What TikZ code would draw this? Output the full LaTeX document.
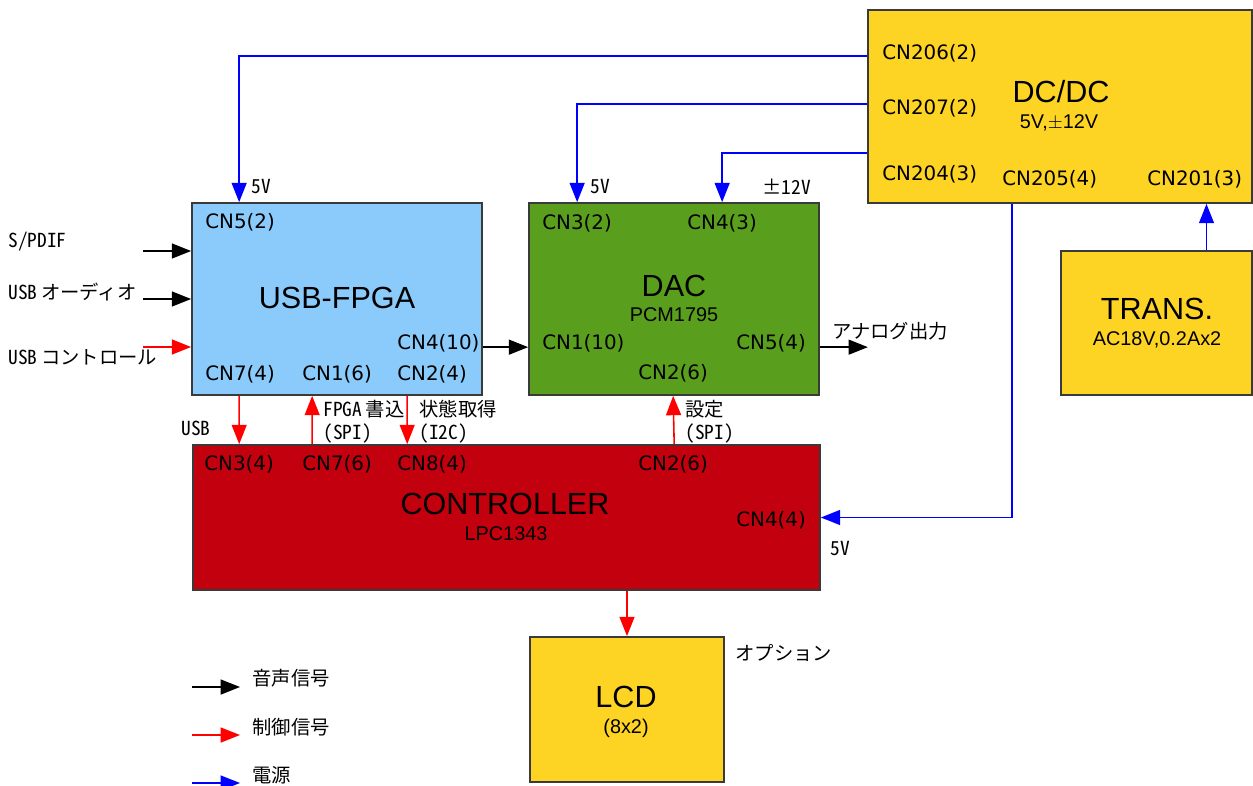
\documentclass[tikz,border=0pt]{standalone}
\usepackage{fontspec}
\usetikzlibrary{arrows.meta, positioning, calc}
\newfontfamily\portfont{DejaVu Sans}
\newfontfamily\headfont{Liberation Sans}
\newfontfamily\jpfont[RawFeature=+hwid]{Noto Sans CJK JP}
\definecolor{fpgacolor}{HTML}{8BCBFB}
\definecolor{daccolor}{HTML}{5A9E1E}
\definecolor{ctrlcolor}{HTML}{C3000E}
\definecolor{powercolor}{HTML}{FDD324}
\definecolor{edgecolor}{HTML}{3A3A3A}

\begin{document}
\begin{tikzpicture}[x=0.02cm, y=-0.02cm,
    block/.style={rectangle, draw=edgecolor, line width=1pt, fill=#1, inner sep=0pt},
    port/.style={anchor=west, inner sep=0pt, font=\portfont\fontsize{11.3}{13}\selectfont},
    title/.style={inner sep=0pt, font=\headfont\fontsize{17.4}{20}\selectfont},
    subtitle/.style={inner sep=0pt, font=\headfont\fontsize{11.3}{13}\selectfont},
    note/.style={anchor=west, inner sep=0pt, font=\jpfont\fontsize{11}{13}\selectfont},
    sig/.style={-{Triangle[length=11pt, width=8.5pt]}, line width=0.9pt, black},
    ctl/.style={sig, red},
    pwr/.style={sig, blue}
]
\useasboundingbox (0,0) rectangle (1253,785);

% Blocks
\node[block=fpgacolor, minimum width=5.8cm, minimum height=3.84cm] (fpga) at (337,299) {};
\node[block=daccolor, minimum width=5.8cm, minimum height=3.84cm] (dac) at (674,299) {};
\node[block=ctrlcolor, minimum width=12.54cm, minimum height=2.9cm] (ctrl) at (506.5,517.5) {};
\node[block=powercolor, minimum width=3.88cm, minimum height=2.9cm] (lcd) at (627,709.5) {};
\node[block=powercolor, minimum width=7.68cm, minimum height=3.86cm] (dcdc) at (1060,106.5) {};
\node[block=powercolor, minimum width=3.82cm, minimum height=2.88cm] (trans) at (1156.5,323) {};

% Block titles
\node[title] (fpga-t) at (337,298) {USB-FPGA};
\node[title] (dac-t) at (674,286) {DAC};
\node[subtitle] (dac-s) at (674,315) {PCM1795};
\node[title] (ctrl-t) at (505,504) {CONTROLLER};
\node[subtitle] (ctrl-s) at (506,534) {LPC1343};
\node[title] (lcd-t) at (626,697) {LCD};
\node[subtitle] (lcd-s) at (626,728) {(8x2)};
\node[title] (dcdc-t) at (1061,92) {DC/DC};
\node[subtitle] (dcdc-s) at (1059,123) {5V,$\pm$12V};
\node[title] (trans-t) at (1157,309) {TRANS.};
\node[subtitle] (trans-s) at (1157,340) {AC18V,0.2Ax2};

% Connector names - USB-FPGA
\node[port] (fpga-cn5) at (205,222) {CN5(2)};
\node[port] (fpga-cn4) at (397,343) {CN4(10)};
\node[port] (fpga-cn7) at (205,374) {CN7(4)};
\node[port] (fpga-cn1) at (302,374) {CN1(6)};
\node[port] (fpga-cn2) at (397,374) {CN2(4)};

% Connector names - DAC
\node[port] (dac-cn3) at (542,223) {CN3(2)};
\node[port] (dac-cn4) at (687,223) {CN4(3)};
\node[port] (dac-cn1) at (542,343) {CN1(10)};
\node[port] (dac-cn5) at (736,343) {CN5(4)};
\node[port] (dac-cn2) at (638,373) {CN2(6)};

% Connector names - CONTROLLER
\node[port] (ctrl-cn3) at (204,464) {CN3(4)};
\node[port] (ctrl-cn7) at (302,464) {CN7(6)};
\node[port] (ctrl-cn8) at (397,464) {CN8(4)};
\node[port] (ctrl-cn2) at (638,464) {CN2(6)};
\node[port] (ctrl-cn4) at (736,520) {CN4(4)};

% Connector names - DC/DC
\node[port] (dcdc-cn206) at (882,53) {CN206(2)};
\node[port] (dcdc-cn207) at (882,108) {CN207(2)};
\node[port] (dcdc-cn204) at (882,174) {CN204(3)};
\node[port] (dcdc-cn205) at (1002,179) {CN205(4)};
\node[port] (dcdc-cn201) at (1147,179) {CN201(3)};

% Power lines
\draw[pwr] ($(dcdc.north west)+(0,47)$) -| ($(fpga.north west)+(48,0)$);
\draw[pwr] ($(dcdc.north west)+(0,95)$) -| ($(dac.north west)+(49,0)$);
\draw[pwr] ($(dcdc.north west)+(0,144)$) -| ($(dac.north west)+(194,0)$);
\draw[pwr] ($(dcdc.south west)+(145,0)$) |- (ctrl.east);
\coordinate (trans-out) at ($(trans.north)+(50,0)$);
\draw[pwr] (trans-out) -- (trans-out |- dcdc.south);

\node[note] (v-fpga) at (251,187) {5V};
\node[note] (v-dac5) at (590,187) {5V};
\node[note] (v-dac12) at (762,187) {±12V};
\node[note] (v-ctrl) at (830,548) {5V};

% Audio signals
\coordinate (spdif-in) at (143,251);
\coordinate (audio-in) at (143,299);
\coordinate (usbctl-in) at (143,347);
\draw[sig] (spdif-in) -- (spdif-in -| fpga.west);
\draw[sig] (audio-in) -- (audio-in -| fpga.west);
\draw[ctl] (usbctl-in) -- (usbctl-in -| fpga.west);
\node[note] (l-spdif) at (8,242) {S/PDIF};
\node[note] (l-audio) at (8,292) {USB\hspace{0.2em}オーディオ};
\node[note] (l-usbctl) at (8,357) {USB\hspace{0.2em}コントロール};

\draw[sig] ($(fpga.north east)+(0,145)$) -- ($(dac.north west)+(0,145)$);
\draw[sig] ($(dac.north east)+(0,145)$) -- ++(48,0);
\node[note] (l-analog) at (832,331) {アナログ出力};

% Control signals
\draw[ctl] ($(fpga.south west)+(48,0)$) -- ($(ctrl.north west)+(47,0)$);
\draw[ctl] ($(ctrl.north west)+(120,0)$) -- ($(fpga.south west)+(121,0)$);
\draw[ctl] ($(fpga.south west)+(216,0)$) -- ($(ctrl.north west)+(215,0)$);
\draw[ctl] ($(ctrl.north west)+(482,0)$) -- ($(dac.south west)+(145,0)$);
\draw[ctl] (ctrl.south -| lcd.north) -- (lcd.north);

\node[note, anchor=east] (l-usb) at (211,428) {USB};
\node[note, align=left] (l-fpgawr) at (323,422) {FPGA\hspace{0.2em}書込\\(SPI)};
\node[note, align=left] (l-state) at (419,422) {状態取得\\(I2C)};
\node[note, align=left] (l-setup) at (685,422) {設定\\(SPI)};
\node[note] (l-option) at (735,653) {オプション};

% Legend
\coordinate (leg-sig) at (192,687);
\coordinate (leg-ctl) at (192,735);
\coordinate (leg-pwr) at (192,783);
\draw[sig] (leg-sig) -- ++(48,0);
\draw[ctl] (leg-ctl) -- ++(48,0);
\draw[pwr] (leg-pwr) -- ++(48,0);
\node[note] (l-sig) at (252,678) {音声信号};
\node[note] (l-ctl) at (252,727) {制御信号};
\node[note] (l-pwr) at (252,775) {電源};
\end{tikzpicture}
\end{document}
